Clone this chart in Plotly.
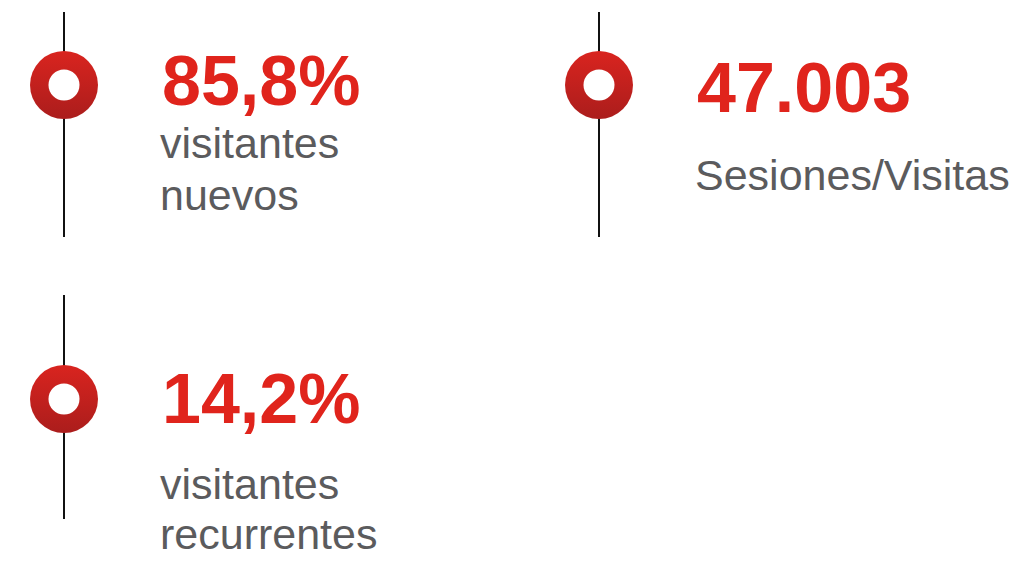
import plotly.graph_objects as go

# values shown in the infographic
values = ["85,8%", "47.003", "14,2%"]
labels = [["visitantes", "nuevos"], ["Sesiones/Visitas"], ["visitantes", "recurrentes"]]

# where each block sits on the page (pixel coords, y down)
anchor_x = [64, 599, 64]
anchor_y = [85, 85, 399]
line_top = [12, 12, 295]
line_bottom = [237, 237, 519]
value_x = [160, 695, 160]
value_y = [81, 88, 399]
label_y = [[143, 195], [175], [484, 534]]

RED = "#e0241c"
GRAY = "#5b5b5d"

fig = go.Figure()

# vertical timeline strokes
for x, y0, y1 in zip(anchor_x, line_top, line_bottom):
    fig.add_trace(go.Scatter(x=[x, x], y=[y0, y1], mode="lines",
                             line=dict(color="#111111", width=2),
                             hoverinfo="skip", showlegend=False))

# red rings
fig.add_trace(go.Scatter(x=anchor_x, y=anchor_y, mode="markers",
                         marker=dict(size=68, color="#d9241f",
                                     gradient=dict(type="vertical", color="#ab1d1c"),
                                     line=dict(width=0)),
                         hoverinfo="skip", showlegend=False))
fig.add_trace(go.Scatter(x=anchor_x, y=anchor_y, mode="markers",
                         marker=dict(size=31, color="white", line=dict(width=0)),
                         hoverinfo="skip", showlegend=False))

for i in range(len(values)):
    fig.add_annotation(x=value_x[i], y=value_y[i], text="<b>" + values[i] + "</b>",
                       showarrow=False, xanchor="left", yanchor="middle",
                       font=dict(family="Liberation Sans, Arial", size=70, color=RED))
    for line, ly in zip(labels[i], label_y[i]):
        fig.add_annotation(x=value_x[i] - 2, y=ly, text=line,
                           showarrow=False, xanchor="left", yanchor="middle",
                           font=dict(family="Liberation Sans, Arial", size=43, color=GRAY))

# axes in page pixels
fig.update_xaxes(range=[0, 1021], visible=False, fixedrange=True)
fig.update_yaxes(range=[563, 0], visible=False, fixedrange=True)
fig.update_layout(width=1021, height=563, margin=dict(l=0, r=0, t=0, b=0),
                  plot_bgcolor="white", paper_bgcolor="white")

# drop the default body margin so the figure fills the window
fig.write_html("out.html", config={"displayModeBar": False},
               post_script="document.body.style.margin='0';")
